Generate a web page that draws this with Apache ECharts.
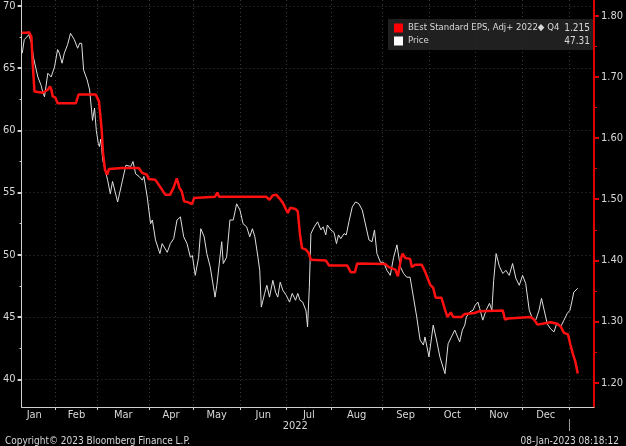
<!DOCTYPE html>
<html><head><meta charset="utf-8">
<script src="https://cdn.jsdelivr.net/npm/echarts@6/dist/echarts.min.js"></script>
<style>html,body{margin:0;padding:0;background:#000}#c{width:626px;height:446px}</style>
</head><body><div id="c"></div>
<script>
// x values are trading-day indices (Jan 3 2022 = 0)
const monthNames = ['Jan','Feb','Mar','Apr','May','Jun','Jul','Aug','Sep','Oct','Nov','Dec'];
const monthStarts = [0,19,38,61,81,102,123,143,166,187,208,229,250];
const yearLabel = '2022';
const priceTicks = [40,45,50,55,60,65,70];
const epsTicks = [1.20,1.30,1.40,1.50,1.60,1.70,1.80];
const epsName = 'BEst Standard EPS, Adj+ 2022\u25C6 Q4';
const priceName = 'Price';

const epsData = [[3.8,1.772],[5.9,1.772],[7.1,1.773],[8.2,1.766],[8.7,1.728],[9.6,1.676],[13.3,1.674],[15.6,1.679],[16.6,1.6845],[17.2,1.679],[17.8,1.668],[19.0,1.666],[20.0,1.657],[28.2,1.657],[29.4,1.671],[37.2,1.671],[38.6,1.660],[39.8,1.614],[40.4,1.576],[41.3,1.548],[42.3,1.540],[43.1,1.5495],[49.0,1.551],[56.5,1.551],[58.0,1.543],[60.2,1.540],[60.9,1.533],[63.9,1.532],[65.4,1.524],[68.4,1.5075],[70.6,1.5075],[72.1,1.5185],[73.6,1.534],[74.8,1.5185],[75.8,1.513],[76.9,1.4965],[78.8,1.495],[80.4,1.492],[81.4,1.502],[90.8,1.504],[91.8,1.511],[92.6,1.504],[113.9,1.504],[115.3,1.499],[116.7,1.506],[118.3,1.5075],[119.8,1.501],[121.3,1.494],[123.5,1.4775],[124.6,1.486],[127.0,1.484],[128.0,1.480],[129.0,1.442],[129.9,1.420],[131.7,1.4175],[132.9,1.412],[133.9,1.401],[140.6,1.400],[142.1,1.3915],[150.3,1.3915],[151.8,1.3805],[153.7,1.3805],[154.7,1.395],[167.4,1.394],[168.9,1.389],[171.9,1.385],[173.0,1.374],[174.5,1.404],[175.1,1.411],[176.3,1.404],[178.5,1.4025],[179.3,1.389],[180.8,1.393],[183.7,1.393],[185.2,1.382],[187.5,1.3605],[188.9,1.355],[190.0,1.339],[192.6,1.339],[194.2,1.3195],[195.3,1.3075],[196.8,1.315],[197.9,1.3075],[201.6,1.3075],[203.1,1.3125],[207.5,1.314],[209.8,1.317],[220.2,1.318],[221.2,1.303],[222.4,1.305],[226.1,1.306],[232.8,1.3075],[234.3,1.303],[235.8,1.295],[241.7,1.299],[244.7,1.2965],[246.2,1.292],[247.7,1.2815],[249.5,1.279],[250.6,1.2625],[251.8,1.246],[252.8,1.235],[253.9,1.215]];

const priceData = [[4.1,66.2],[5.0,67.3],[6.1,67.5],[7.0,67.7],[8.3,67.0],[9.1,65.9],[11.1,64.3],[11.9,64.45],[12.6,63.6],[13.3,63.1],[14.1,62.7],[15.6,64.6],[16.3,64.7],[17.1,64.3],[18.6,65.1],[20.0,66.5],[20.8,66.2],[22.0,65.4],[23.0,66.2],[24.5,66.9],[25.8,67.8],[27.5,67.3],[29.0,66.6],[29.9,67.0],[30.8,67.0],[31.7,64.85],[33.3,64.05],[34.4,63.25],[35.7,60.8],[36.6,61.8],[37.4,60.0],[38.3,58.95],[38.8,58.7],[39.4,59.3],[40.3,57.6],[42.5,56.0],[43.7,54.9],[44.7,55.9],[47.0,54.25],[47.8,54.25],[49.2,56.0],[50.7,57.2],[52.9,57.1],[53.9,57.5],[55.1,56.5],[56.6,56.3],[58.1,56.0],[58.8,56.3],[60.3,54.65],[61.8,52.5],[62.6,52.8],[64.0,51.2],[66.0,50.1],[67.0,50.9],[69.3,50.2],[70.7,50.9],[72.2,51.3],[73.7,52.8],[75.2,53.05],[76.7,51.45],[78.2,50.9],[79.7,49.8],[80.6,49.95],[81.9,48.35],[83.4,49.8],[84.4,52.1],[85.9,51.45],[87.1,50.1],[88.6,49.05],[90.1,47.4],[90.8,46.6],[91.6,47.55],[92.3,47.55],[93.8,51.05],[94.5,49.3],[96.0,49.8],[97.5,52.8],[99.0,52.8],[100.5,54.1],[102.0,53.6],[103.4,52.5],[105.0,52.25],[106.4,51.45],[107.6,52.1],[108.7,51.45],[110.1,49.8],[110.9,48.75],[111.6,45.8],[113.1,46.9],[114.1,47.55],[115.3,46.6],[116.8,47.95],[118.0,47.0],[119.0,46.6],[120.1,47.8],[121.3,47.15],[122.8,46.75],[124.3,46.2],[125.5,46.9],[127.0,46.35],[128.0,46.9],[129.0,46.35],[130.2,46.2],[131.7,45.5],[132.4,44.2],[133.2,47.4],[133.9,51.7],[135.4,52.25],[136.9,52.65],[138.4,52.0],[139.4,52.25],[140.6,51.6],[141.3,52.4],[142.9,52.0],[144.3,51.8],[145.4,50.9],[146.3,51.6],[147.3,51.3],[148.8,51.7],[149.8,51.6],[151.0,52.65],[152.5,53.85],[154.0,54.25],[155.5,54.1],[157.0,53.6],[158.5,52.4],[160.0,51.2],[161.4,51.05],[162.5,52.0],[163.6,50.1],[165.2,49.4],[166.6,49.4],[168.1,48.75],[169.6,48.35],[171.1,49.8],[172.6,50.8],[173.3,50.8],[174.1,49.05],[175.6,48.5],[177.0,48.2],[178.5,48.2],[180.0,46.6],[181.5,45.0],[183.0,43.15],[184.5,42.75],[185.2,43.4],[187.0,41.8],[188.9,44.35],[190.4,43.15],[191.9,41.8],[194.2,40.45],[195.6,42.85],[197.1,43.4],[198.6,43.95],[199.3,44.05],[200.8,43.0],[202.0,43.95],[203.1,44.35],[203.8,45.0],[205.3,45.4],[206.8,45.55],[207.8,45.95],[209.0,46.2],[209.8,45.7],[211.2,44.75],[212.7,45.55],[214.2,46.1],[215.3,45.55],[216.1,47.95],[217.2,50.1],[218.7,49.05],[220.2,48.5],[221.6,48.75],[223.1,48.35],[224.6,49.3],[226.1,48.1],[227.6,47.55],[229.1,48.35],[230.5,47.7],[232.1,45.55],[233.5,44.9],[235.0,44.75],[236.5,45.55],[237.6,46.5],[238.8,45.55],[240.2,44.45],[241.7,44.05],[243.2,43.8],[244.4,44.45],[246.2,44.2],[247.7,44.75],[249.2,45.3],[250.4,45.55],[251.4,46.35],[252.1,47.0],[252.9,46.9],[253.9,47.31]];

const FONT = "'Liberation Sans Narrow','DejaVu Sans Condensed','Liberation Sans',sans-serif";
const TXT = '#d8d8d8';
const xMin = 3.8, xMax = 261.2;
const labelPos = monthNames.map((m, i) => (monthStarts[i] + monthStarts[i + 1]) / 2);
const yearEnd = monthStarts[monthStarts.length - 1];
const yearMid = (xMin + yearEnd) / 2;
const lastEps = epsData[epsData.length - 1][1];
const lastPrice = priceData[priceData.length - 1][1];

const chart = echarts.init(document.getElementById('c'), null, {renderer: 'canvas'});
const grid = {left: 20, right: 29, top: 0, bottom: 39, containLabel: false};
const dotted = {show: true, lineStyle: {color: '#3d3d3d', type: [1, 3], width: 1}};

chart.setOption({
  backgroundColor: '#000',
  animation: false,
  textStyle: {fontFamily: FONT},
  title: [
    {text: 'Copyright\u00A9 2023 Bloomberg Finance L.P.', left: 0, top: 431,
     textStyle: {color: TXT, fontSize: 10, fontWeight: 'normal', fontFamily: FONT}},
    {text: '08-Jan-2023 08:18:12', right: 2, top: 431,
     textStyle: {color: TXT, fontSize: 10, fontWeight: 'normal', fontFamily: FONT}}
  ],
  legend: {
    left: 388, top: 19, orient: 'vertical',
    backgroundColor: 'rgba(38,38,38,0.85)',
    padding: [4, 3, 4, 6], itemGap: 3, itemWidth: 9, itemHeight: 9, icon: 'rect',
    data: [epsName, priceName],
    formatter: function (name) {
      const v = name === epsName ? lastEps.toFixed(3) : lastPrice.toFixed(2);
      return '{n|' + name + '}{v|' + v + '}';
    },
    textStyle: {color: TXT, fontSize: 10, fontFamily: FONT,
      rich: {n: {width: 156, fontSize: 9.5, color: TXT, fontFamily: FONT},
             v: {width: 26, align: 'right', fontSize: 10, color: TXT, fontFamily: FONT}}}
  },
  grid: grid,
  xAxis: [
    {type: 'value', min: xMin, max: xMax, position: 'bottom',
     axisLine: {show: true, onZero: false, lineStyle: {color: '#cfcfcf', width: 1}},
     axisTick: {show: true, customValues: monthStarts.slice(1), length: 3, lineStyle: {color: '#cfcfcf'}},
     axisLabel: {show: false},
     splitLine: Object.assign({customValues: monthStarts.slice(1)}, dotted)},
    {type: 'value', min: xMin, max: xMax, position: 'bottom',
     axisLine: {show: false}, axisTick: {show: false}, splitLine: {show: false},
     axisLabel: {show: true, customValues: labelPos, margin: 3, color: TXT, fontSize: 11, fontFamily: FONT,
       formatter: function (v) { const i = labelPos.indexOf(v); return i >= 0 ? monthNames[i] : ''; }}},
    {type: 'value', min: xMin, max: xMax, position: 'bottom', offset: 12,
     axisLine: {show: false}, splitLine: {show: false},
     axisTick: {show: true, customValues: [yearEnd], length: 12, lineStyle: {color: '#9a9a9a'}},
     axisLabel: {show: true, customValues: [yearMid], margin: 2, color: TXT, fontSize: 11, fontFamily: FONT,
       formatter: function () { return yearLabel; }}}
  ],
  yAxis: [
    {type: 'value', min: 37.77, max: 70.48, position: 'left',
     axisLine: {show: true, lineStyle: {color: '#cfcfcf', width: 1}},
     axisTick: {show: true, customValues: priceTicks, length: 4, lineStyle: {color: '#cfcfcf', width: 2}},
     minorTick: {show: true, splitNumber: 2, length: 2, lineStyle: {color: '#cfcfcf', width: 1}},
     axisLabel: {show: true, customValues: priceTicks, margin: 6, color: TXT, fontSize: 11, fontFamily: FONT},
     splitLine: Object.assign({customValues: priceTicks}, dotted)},
    {type: 'value', min: 1.1603, max: 1.8257, position: 'right',
     axisLine: {show: true, lineStyle: {color: '#e00000', width: 2}},
     axisTick: {show: true, customValues: epsTicks, length: 5, lineStyle: {color: '#e00000', width: 2}},
     minorTick: {show: true, splitNumber: 2, length: 3, lineStyle: {color: '#e00000', width: 1}},
     axisLabel: {show: true, customValues: epsTicks, margin: 7, color: TXT, fontSize: 11, fontFamily: FONT,
       formatter: function (v) { return v.toFixed(2); }},
     splitLine: {show: false}}
  ],
  series: [
    {name: priceName, type: 'line', xAxisIndex: 0, yAxisIndex: 0, data: priceData,
     showSymbol: false, symbol: 'none', z: 2, color: '#ffffff',
     lineStyle: {color: '#dedede', width: 1}},
    {name: epsName, type: 'line', xAxisIndex: 0, yAxisIndex: 1, data: epsData,
     showSymbol: false, symbol: 'none', z: 3, color: '#ff0000',
     lineStyle: {color: '#ff1010', width: 2.5}}
  ]
});
</script>
</body></html>
